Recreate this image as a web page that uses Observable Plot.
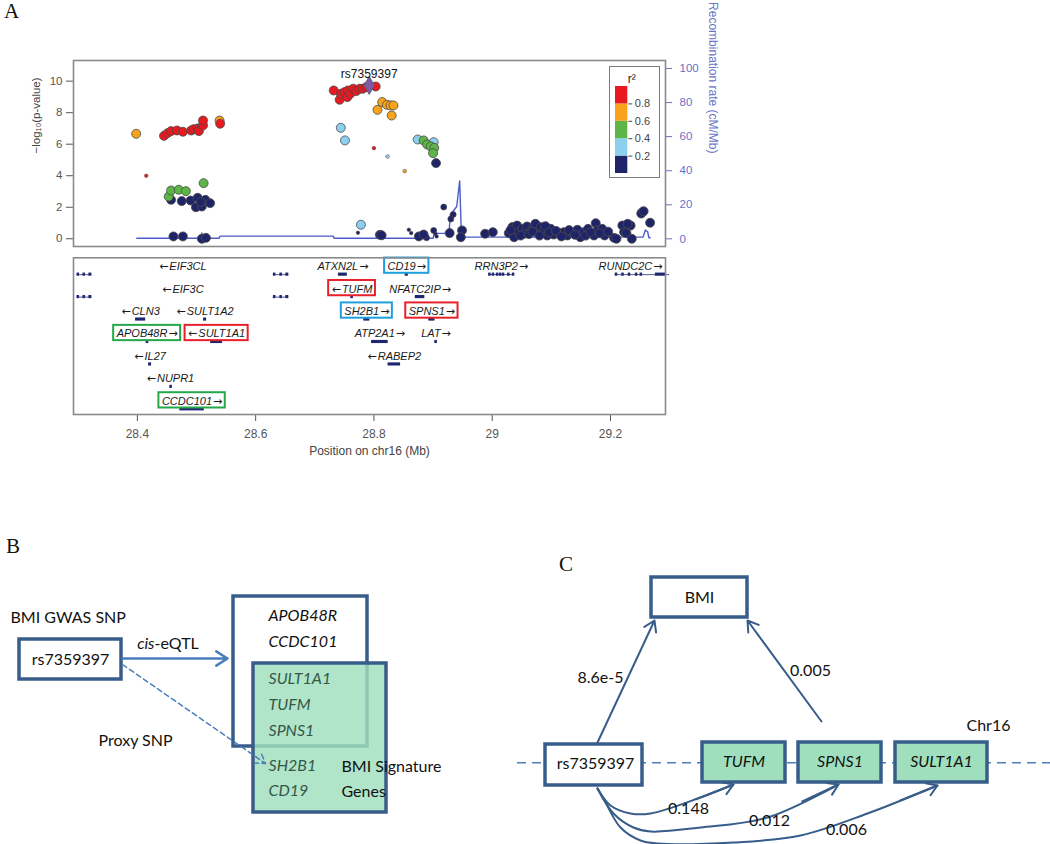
<!DOCTYPE html>
<html><head><meta charset="utf-8">
<script src="https://cdn.jsdelivr.net/npm/d3@7"></script>
<script src="https://cdn.jsdelivr.net/npm/@observablehq/plot@0.6"></script>
<style>
body{margin:0;background:#fff;}
#fig{position:relative;width:1050px;height:844px;overflow:hidden;background:#fff;}
.panel{position:absolute;font-family:"Liberation Serif","DejaVu Serif",serif;font-size:21px;line-height:1;color:#111;}
</style></head><body><div id="fig"></div>
<script>
// ---------------- DATA ----------------
const r2Breaks = [0.2, 0.4, 0.6, 0.8];
const r2Colors = ["#1f2468", "#8ccfee", "#5db547", "#f8a31b", "#e8191f"];
const logpTicks = [0, 2, 4, 6, 8, 10];
const recombTicks = [0, 20, 40, 60, 80, 100];
const positionTicks = [28.4, 28.6, 28.8, 29, 29.2];

// SNPs: [position (Mb), -log10(p), r2]
const snpsLarge = [
  [28.398,6.66,0.7],
  [28.445,6.53,0.9],[28.451,6.70,0.9],[28.457,6.83,0.9],[28.467,6.87,0.9],[28.477,6.79,0.9],[28.491,6.87,0.9],[28.495,6.95,0.9],[28.502,7.00,0.9],[28.504,6.83,0.9],[28.511,7.19,0.9],[28.511,7.50,0.9],
  [28.539,7.50,0.7],[28.540,7.30,0.9],
  [28.453,2.68,0.5],[28.457,3.06,0.5],[28.470,3.11,0.5],[28.482,3.02,0.5],[28.512,3.53,0.5],
  [28.457,2.47,0.1],[28.475,2.39,0.1],[28.490,2.43,0.1],[28.502,2.60,0.1],[28.499,2.00,0.1],[28.509,2.05,0.1],[28.515,2.47,0.1],[28.523,2.26,0.1],[28.507,2.33,0.1],
  [28.461,0.15,0.1],[28.477,0.15,0.1],[28.509,0.00,0.1],[28.516,0.06,0.1],
  [28.732,9.41,0.9],[28.742,8.82,0.9],[28.744,9.20,0.9],[28.750,9.30,0.9],[28.755,8.99,0.9],[28.756,9.41,0.9],[28.760,9.20,0.9],[28.765,9.52,0.9],[28.770,9.37,0.9],[28.776,9.52,0.9],[28.781,9.52,0.9],[28.787,9.62,0.9],[28.803,9.66,0.9],
  [28.744,7.04,0.3],[28.751,6.24,0.3],[28.778,0.89,0.3],[28.874,6.30,0.3],[28.901,6.13,0.3],
  [28.806,8.18,0.7],[28.814,8.67,0.7],[28.822,8.50,0.7],[28.828,8.46,0.7],[28.833,8.46,0.7],[28.830,7.82,0.7],
  [28.884,6.24,0.5],[28.890,5.98,0.5],[28.896,5.86,0.5],[28.902,5.77,0.5],[28.900,5.43,0.5],
  [28.905,4.80,0.1],[28.810,0.25,0.1],[28.813,0.22,0.1],[28.876,0.15,0.1],[28.884,0.27,0.1],[28.928,0.36,0.1],[28.949,0.53,0.1],[28.947,0.10,0.1],[28.988,0.32,0.1],[29.001,0.42,0.1],
  [29.028,0.36,0.1],[29.034,0.74,0.1],[29.037,0.10,0.1],[29.042,0.84,0.1],[29.045,0.42,0.1],[29.051,0.63,0.1],[29.054,0.32,0.1],[29.059,0.78,0.1],[29.065,0.53,0.1],[29.070,0.74,0.1],[29.073,0.95,0.1],[29.077,0.36,0.1],[29.082,0.74,0.1],[29.087,0.53,0.1],[29.093,0.21,0.1],[29.099,0.63,0.1],[29.104,0.27,0.1],[29.113,0.36,0.1],[29.121,0.42,0.1],[29.127,0.21,0.1],[29.135,0.36,0.1],[29.144,0.57,0.1],[29.149,0.10,0.1],[29.155,0.42,0.1],[29.162,0.63,0.1],[29.172,0.21,0.1],[29.175,0.99,0.1],[29.178,0.53,0.1],[29.186,0.63,0.1],[29.190,0.21,0.1],[29.206,0.06,0.1],[29.210,0.00,0.1],[29.220,0.84,0.1],[29.223,0.42,0.1],[29.227,0.36,0.1],[29.234,0.84,0.1],[29.236,0.00,0.1],[29.254,1.69,0.1],[29.267,1.02,0.1],
  [29.031,0.55,0.1],[29.048,0.20,0.1],[29.062,0.30,0.1],[29.068,0.45,0.1],[29.080,0.20,0.1],[29.090,0.80,0.1],[29.096,0.40,0.1],[29.108,0.50,0.1],[29.117,0.15,0.1],[29.130,0.55,0.1],[29.140,0.25,0.1],[29.158,0.20,0.1],[29.166,0.40,0.1],[29.182,0.35,0.1],[29.196,0.45,0.1],[29.229,0.95,0.1],[29.252,1.60,0.1],[29.256,1.75,0.1]
];
const snpsMedium = [[28.918,2.01,0.1],[28.934,1.54,0.1],[28.930,1.25,0.1],[28.901,0.53,0.1],[28.889,0.06,0.1]];
const snpsSmall = [[28.415,4.00,0.9],[28.800,5.75,0.9],[28.823,5.22,0.3],[28.852,4.29,0.7],[28.773,0.38,0.1],[28.859,0.57,0.1],[28.863,0.36,0.1],[28.904,0.32,0.1],[28.906,0.15,0.1]];
const leadSnp = [{name: "rs7359397", pos: 28.792, logp: 9.73}];

// recombination rate: [position (Mb), cM/Mb]
const recombination = [[28.399,0.3],[28.508,0.3],[28.509,3.5],[28.511,0.3],[28.538,0.3],[28.540,1.6],[28.731,1.6],[28.733,0.3],[28.900,0.3],[28.902,3.2],[28.927,3.2],[28.929,14],[28.940,19],[28.945,34],[28.948,0.6],[28.951,1.0],[29.255,1.0],[29.259,5.2],[29.263,4.0],[29.265,0.6],[29.267,0.6]];

// genes: name, strand, row, exon blocks (Mb), highlight
const genes = [
  {name:"EIF3CL", strand:"-", row:1, exons:[[28.298,28.302],[28.308,28.312],[28.318,28.323],[28.630,28.634],[28.641,28.645],[28.651,28.656]], span:[28.298,28.656], lines:[[28.298,28.323],[28.630,28.656]]},
  {name:"ATXN2L", strand:"+", row:1, exons:[[28.740,28.755]]},
  {name:"CD19", strand:"+", row:1, exons:[[28.853,28.858]], box:"blue"},
  {name:"RRN3P2", strand:"+", row:1, exons:[[28.994,28.996],[29.000,29.002],[29.007,29.009],[29.012,29.014],[29.017,29.019],[29.026,29.028],[29.034,29.037]]},
  {name:"RUNDC2C", strand:"+", row:1, exons:[[29.208,29.210],[29.219,29.221],[29.230,29.232],[29.242,29.244],[29.250,29.252],[29.276,29.293]], span:[29.208,29.300]},
  {name:"EIF3C", strand:"-", row:2, exons:[[28.298,28.302],[28.308,28.312],[28.318,28.323],[28.630,28.634],[28.641,28.645],[28.651,28.656]], span:[28.298,28.656], lines:[[28.298,28.323],[28.630,28.656]]},
  {name:"TUFM", strand:"-", row:2, exons:[[28.761,28.765]], box:"red"},
  {name:"NFATC2IP", strand:"+", row:2, exons:[[28.870,28.886]]},
  {name:"CLN3", strand:"-", row:3, exons:[[28.397,28.414]]},
  {name:"SULT1A2", strand:"-", row:3, exons:[[28.512,28.517]]},
  {name:"SH2B1", strand:"+", row:3, exons:[[28.783,28.793]], box:"blue"},
  {name:"SPNS1", strand:"+", row:3, exons:[[28.893,28.903]], box:"red"},
  {name:"APOB48R", strand:"+", row:4, exons:[[28.415,28.418]], box:"green"},
  {name:"SULT1A1", strand:"-", row:4, exons:[[28.524,28.544]], box:"red"},
  {name:"ATP2A1", strand:"+", row:4, exons:[[28.796,28.824]]},
  {name:"LAT", strand:"+", row:4, exons:[[28.903,28.907]]},
  {name:"IL27", strand:"-", row:5, exons:[[28.419,28.424]]},
  {name:"RABEP2", strand:"-", row:5, exons:[[28.824,28.845]]},
  {name:"NUPR1", strand:"-", row:6, exons:[[28.455,28.457]]},
  {name:"CCDC101", strand:"+", row:7, exons:[[28.472,28.513]], box:"green"}
];
const boxColors = {red:"#e8202a", blue:"#1e9fe0", green:"#25a84a"};

// Panel B / C content
const gwasLabel = "BMI GWAS SNP";
const snpId = "rs7359397";
const eqtlOnlyGenes = ["APOB48R", "CCDC101"];
const eqtlSignatureGenes = ["SULT1A1", "TUFM", "SPNS1"];
const proxySignatureGenes = ["SH2B1", "CD19"];
const chrGenes = ["TUFM", "SPNS1", "SULT1A1"];
const geneEqtlP = ["0.148", "0.012", "0.006"];
const snpBmiP = "8.6e-5";
const geneBmiP = "0.005";

// ---------------- LAYOUT ----------------
const fig = document.getElementById("fig");
function place(node, left, top) {
  node.style.position = "absolute"; node.style.left = left + "px"; node.style.top = top + "px";
  fig.appendChild(node); return node;
}
const xDomain = [28.292, 29.293];
const frameW = 592;
const pxPerMb = frameW / (xDomain[1] - xDomain[0]);
const colorScale = {type: "threshold", domain: r2Breaks, range: r2Colors};
const toSnp = a => ({pos: a[0], logp: a[1], r2: a[2]});
const byR2 = (a, b) => a.r2 - b.r2;
const dims = {width: 740, height: 210, marginLeft: 73, marginRight: 75, marginTop: 10, marginBottom: 14};

// recombination layer (underneath)
place(Plot.plot({
  ...dims,
  style: {background: "transparent", overflow: "visible", color: "#6872c6", fontFamily: "Liberation Sans"},
  x: {domain: xDomain, axis: null},
  y: {domain: [-4.5, 104.7]},
  marks: [
    Plot.axisY({anchor: "right", ticks: recombTicks, tickSize: 6, tickPadding: 8, label: null, fontSize: 11.5}),
    Plot.line(recombination, {x: d => d[0], y: d => d[1], stroke: "#4d5cc8", strokeWidth: 1.4}),
    Plot.text(["Recombination rate (cM/Mb)"], {text: d => d, frameAnchor: "right", dx: 47, rotate: 90, fontSize: 12, fill: "#6872c6"})
  ]
}), 0, 50);

// association layer
place(Plot.plot({
  ...dims,
  style: {background: "transparent", overflow: "visible", color: "#555", fontFamily: "Liberation Sans"},
  x: {domain: xDomain, axis: null},
  y: {domain: [-0.49, 11.31]},
  color: colorScale,
  marks: [
    Plot.axisY({ticks: logpTicks, tickSize: 7, tickPadding: 4, label: null, fontSize: 11.5}),
    Plot.text(["−log₁₀(p-value)"], {text: d => d, frameAnchor: "left", dx: -37, rotate: -90, fontSize: 11.5, fill: "#444"}),
    Plot.dot(snpsSmall.map(toSnp).sort(byR2), {x: "pos", y: "logp", fill: "r2", r: 1.8, stroke: "#444", strokeWidth: 0.5}),
    Plot.dot(snpsMedium.map(toSnp).sort(byR2), {x: "pos", y: "logp", fill: "r2", r: 3, stroke: "#444", strokeWidth: 0.6}),
    Plot.dot(snpsLarge.map(toSnp).sort(byR2), {x: "pos", y: "logp", fill: "r2", r: 4.5, stroke: "#4a4a4a", strokeWidth: 0.8}),
    Plot.dot(leadSnp, {x: "pos", y: "logp", symbol: "diamond", r: 5.5, fill: "#7d5aa8", stroke: "#555", strokeWidth: 0.8}),
    Plot.text(leadSnp, {x: "pos", y: "logp", text: "name", dy: -11, fontSize: 12, fill: "#111"}),
    Plot.frame({stroke: "#8a8a8a", strokeWidth: 1.6})
  ]
}), 0, 50);

// r2 legend
const r2Bins = [0, ...r2Breaks].map((lo, i) => ({lo, hi: [...r2Breaks, 1][i]}));
place(Plot.plot({
  width: 49, height: 110, marginLeft: 5, marginRight: 31.7, marginTop: 19, marginBottom: 4,
  style: {background: "white", overflow: "visible", color: "#444", fontFamily: "Liberation Sans", border: "1px solid #7a7a7a"},
  x: {domain: [0, 1], axis: null},
  y: {domain: [0, 1]},
  color: colorScale,
  marks: [
    Plot.rect(r2Bins, {x1: 0, x2: 1, y1: "lo", y2: "hi", fill: d => (d.lo + d.hi) / 2}),
    Plot.axisY({anchor: "right", ticks: r2Breaks, tickSize: 4, tickPadding: 3, label: null, fontSize: 11}),
    Plot.text(["r²"], {text: d => d, frameAnchor: "top", dx: 10, dy: -12, fontSize: 12, fill: "#222"})
  ]
}), 609, 66);

// gene track
const ctx = document.createElement("canvas").getContext("2d");
const nameFont = "italic 11px 'Liberation Sans'";
const arrowFont = "11px 'DejaVu Sans'";
const measure = (font, s) => { ctx.font = font; return ctx.measureText(s).width; };
const padMb = 3 / pxPerMb;
const geneRows = genes.map(g => {
  const arrow = g.strand === "+" ? "→" : "←";
  const span = g.span || [d3.min(g.exons, e => e[0]), d3.max(g.exons, e => e[1])];
  const wN = measure(nameFont, g.name), wA = measure(arrowFont, arrow) + 1;
  const half = (wN + wA) / 2 / pxPerMb;
  let cx = (span[0] + span[1]) / 2;
  cx = Math.min(cx, xDomain[1] - half - padMb);
  cx = Math.max(cx, xDomain[0] + half + padMb);
  const left = cx - half;
  const nameX = g.strand === "+" ? left : left + wA / pxPerMb;
  const arrowX = g.strand === "+" ? left + (wN + 1) / pxPerMb : left;
  return {...g, arrow, span, cx, half, nameX, arrowX};
});
const exonRows = geneRows.flatMap(g => g.exons.map(e => ({row: g.row, a: e[0], b: Math.max(e[1], e[0] + 2.5 / pxPerMb)})));
const lineRows = geneRows.flatMap(g => (g.lines || [g.span]).map(s => ({row: g.row, a: s[0], b: s[1]})));
const boxed = geneRows.filter(g => g.box);
place(Plot.plot({
  width: 740, height: 210, marginLeft: 73, marginRight: 75, marginTop: 7.3, marginBottom: 46,
  style: {background: "transparent", overflow: "visible", color: "#555", fontFamily: "Liberation Sans"},
  x: {domain: xDomain},
  y: {domain: [0.61, 7.59], reverse: true, axis: null},
  marks: [
    Plot.ruleY(lineRows, {y: d => d.row + 0.36, x1: "a", x2: "b", stroke: "#26307a", strokeWidth: 0.8}),
    Plot.rect(exonRows, {y1: d => d.row + 0.29, y2: d => d.row + 0.43, x1: "a", x2: "b", fill: "#1f2670"}),
    Plot.text(geneRows, {x: "nameX", y: "row", text: "name", textAnchor: "start", fontStyle: "italic", fontSize: 11, fill: "#1a1a1a"}),
    Plot.text(geneRows, {x: "arrowX", y: "row", text: "arrow", textAnchor: "start", fontFamily: "DejaVu Sans", fontSize: 11, fill: "#1a1a1a"}),
    Plot.rect(boxed, {x1: d => d.cx - d.half - padMb, x2: d => d.cx + d.half + padMb, y1: d => d.row - 0.38, y2: d => d.row + 0.30, fill: "none", stroke: d => boxColors[d.box], strokeWidth: 2}),
    Plot.axisX({ticks: positionTicks, tickFormat: d => String(d), tickSize: 7, tickPadding: 8, label: null, fontSize: 12}),
    Plot.text(["Position on chr16 (Mb)"], {text: d => d, frameAnchor: "bottom", dy: 40, fontSize: 12, fill: "#444"}),
    Plot.frame({stroke: "#8a8a8a", strokeWidth: 1.6})
  ]
}), 0, 250);

// ---------------- Panels B and C (diagram) ----------------
const mint = "#9fdfbd";
const outline = "#385d8a";
const arrowBlue = "#4a7ebb";
const boxesUnder = [
  {x1: 19, x2: 121, y1: 639, y2: 679, fill: "white", op: 1},
  {x1: 233, x2: 367, y1: 596, y2: 746, fill: "white", op: 1},
  {x1: 253, x2: 386, y1: 663, y2: 812, fill: mint, op: 0.82}
];
const boxesC = [
  {x1: 651, x2: 747, y1: 577, y2: 617, fill: "white"},
  {x1: 545, x2: 642, y1: 744, y2: 785, fill: "white"},
  {x1: 702, x2: 785, y1: 742, y2: 782, fill: mint},
  {x1: 798, x2: 881, y1: 742, y2: 782, fill: mint},
  {x1: 895, x2: 987, y1: 742, y2: 782, fill: mint}
];
const bGeneSlots = [615, 641.7, 678.3, 704.3, 730.7, 765, 790.7];
const bGenes = [...eqtlOnlyGenes, ...eqtlSignatureGenes, ...proxySignatureGenes].map((g, i) => ({g, y: bGeneSlots[i], inSig: i >= eqtlOnlyGenes.length}));
const cGeneCenters = [743.5, 839.5, 941];
const cLabels = [
  {t: snpBmiP, x: 600, y: 677}, {t: geneBmiP, x: 810, y: 670},
  {t: geneEqtlP[0], x: 688, y: 808}, {t: geneEqtlP[1], x: 769, y: 820}, {t: geneEqtlP[2], x: 846, y: 829},
  {t: "Chr16", x: 988, y: 725}
];
const cStraight = [{x1: 597, y1: 742, x2: 654, y2: 620}, {x1: 821, y1: 721, x2: 747, y2: 620}];
const cCurves = [
  [[597,788],[610,805],[630,813],[650,813],[700,797],[733,784]],
  [[597,788],[613,813],[633,827],[650,831],[700,827],[767,817],[838,784]],
  [[597,788],[604,800],[620,827],[640,840],[657,843],[733,842],[800,835],[867,813],[937,785]]
];
const curvePts = cCurves.flatMap((c, k) => c.map(p => ({k, x: p[0], y: p[1]})));
const curveTips = cCurves.map(c => {
  const [px, py] = c[c.length - 2], [ex, ey] = c[c.length - 1];
  const L = Math.hypot(ex - px, ey - py);
  return {x1: ex - (ex - px) / L * 40, y1: ey - (ey - py) / L * 40, x2: ex, y2: ey};
});
const txt = {fontFamily: "Lato", fontSize: 16, fill: "#111"};
place(Plot.plot({
  width: 1050, height: 320, margin: 0,
  style: {background: "transparent", overflow: "visible"},
  x: {domain: [0, 1050], range: [0, 1050], axis: null},
  y: {domain: [524, 844], range: [0, 320], axis: null},
  marks: [
    // Panel B
    Plot.text([gwasLabel], {...txt, text: d => d, x: 10, y: 617, textAnchor: "start"}),
    Plot.rect(boxesUnder, {x1: "x1", x2: "x2", y1: "y1", y2: "y2", fill: "fill", fillOpacity: "op", stroke: outline, strokeWidth: 3.5}),
    Plot.text([snpId], {...txt, text: d => d, x: 70, y: 659.5}),
    Plot.text(["cis"], {...txt, text: d => d, x: 154, y: 643, textAnchor: "end", fontStyle: "italic"}),
    Plot.text(["-eQTL"], {...txt, text: d => d, x: 154, y: 643, textAnchor: "start"}),
    Plot.arrow([{x1: 122, y1: 658, x2: 227, y2: 658}], {x1: "x1", y1: "y1", x2: "x2", y2: "y2", stroke: arrowBlue, strokeWidth: 2.5, headLength: 8, headAngle: 65}),
    Plot.arrow([{x1: 122, y1: 664, x2: 265, y2: 763}], {x1: "x1", y1: "y1", x2: "x2", y2: "y2", stroke: arrowBlue, strokeWidth: 1.5, strokeDasharray: "5,3.5", headLength: 10, headAngle: 65}),
    Plot.text(["Proxy SNP"], {...txt, text: d => d, x: 98, y: 740, textAnchor: "start"}),
    Plot.text(bGenes, {...txt, text: "g", x: 268, y: "y", textAnchor: "start", fontStyle: "italic", fill: d => d.inSig ? "#35574a" : "#111"}),
    Plot.text(["BMI Signature", "Genes"], {...txt, text: d => d, x: 341, y: (d, i) => i === 0 ? 766 : 791.7, textAnchor: "start"}),
    // Panel C
    Plot.ruleY([762.3], {x1: 517, x2: 1050, stroke: arrowBlue, strokeWidth: 1.6, strokeDasharray: "9,6"}),
    Plot.rect(boxesC, {x1: "x1", x2: "x2", y1: "y1", y2: "y2", fill: "fill", stroke: outline, strokeWidth: 3.5}),
    Plot.text(["BMI"], {...txt, text: d => d, x: 699, y: 597}),
    Plot.text([snpId], {...txt, text: d => d, x: 595, y: 763}),
    Plot.text(chrGenes, {...txt, text: d => d, x: (d, i) => cGeneCenters[i], y: 761, fontStyle: "italic"}),
    Plot.arrow(cStraight, {x1: "x1", y1: "y1", x2: "x2", y2: "y2", stroke: outline, strokeWidth: 2, headLength: 9, headAngle: 65}),
    Plot.line(curvePts, {x: "x", y: "y", z: "k", curve: "catmull-rom", stroke: outline, strokeWidth: 2}),
    Plot.arrow(curveTips, {x1: "x1", y1: "y1", x2: "x2", y2: "y2", stroke: outline, strokeWidth: 2, headLength: 9, headAngle: 65}),
    Plot.text(cLabels, {...txt, text: "t", x: "x", y: "y"})
  ]
}), 0, 524);

// panel letters
[["A", 4, 1], ["B", 6, 536], ["C", 559, 554]].forEach(([t, l, tp]) => {
  const d = document.createElement("div"); d.className = "panel"; d.textContent = t; place(d, l, tp);
});
</script></body></html>
